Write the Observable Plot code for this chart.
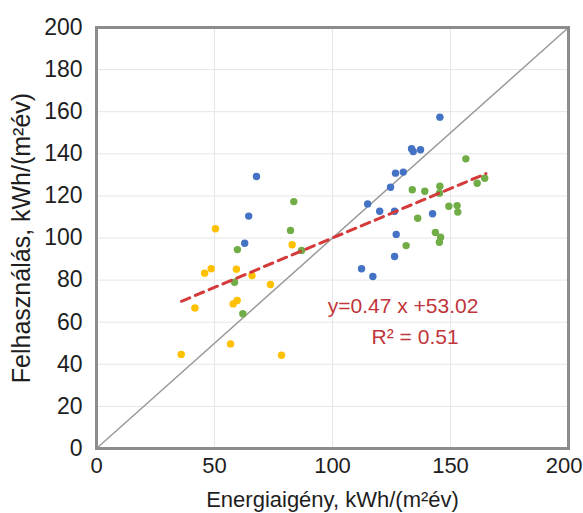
<!DOCTYPE html>
<html><head><meta charset="utf-8">
<script src="https://cdn.jsdelivr.net/npm/d3@7"></script>
<script src="https://cdn.jsdelivr.net/npm/@observablehq/plot@0.6"></script>
<style>body{margin:0;background:#fff}</style>
</head><body><div id="chart"></div>
<script>
const blueX = [67.8, 64.5, 62.8, 145.5, 133.5, 134.2, 137.3, 126.7, 130.0, 124.6, 114.9, 120.0, 126.3, 142.4, 127.0, 126.3, 112.3, 117.1];
const blueY = [129.2, 110.4, 97.5, 157.4, 142.4, 141.1, 141.9, 130.8, 131.3, 124.1, 116.2, 112.7, 112.7, 111.5, 101.7, 91.2, 85.4, 81.7];
const greenX = [83.6, 82.2, 59.7, 86.9, 58.5, 62.0, 156.5, 133.8, 139.1, 145.5, 145.3, 161.3, 164.5, 149.3, 152.8, 153.1, 136.1, 143.6, 145.8, 145.3, 131.2];
const greenY = [117.3, 103.6, 94.5, 94.1, 79.0, 64.0, 137.6, 122.9, 122.2, 124.6, 121.3, 126.0, 128.4, 115.1, 115.4, 112.3, 109.4, 102.6, 100.4, 98.0, 96.4];
const yellowX = [50.4, 82.9, 48.6, 45.8, 59.3, 65.9, 73.7, 41.7, 59.6, 57.9, 56.8, 35.9, 78.4];
const yellowY = [104.4, 96.8, 85.4, 83.3, 85.2, 82.2, 77.9, 66.8, 70.3, 68.7, 49.7, 44.7, 44.3];
const groups = ["kék", "zöld", "sárga"];
const groupColors = ["#4472c4", "#70ad47", "#ffc000"];
const xTicks = [0, 50, 100, 150, 200];
const yTicks = [0, 20, 40, 60, 80, 100, 120, 140, 160, 180, 200];
const trendSlope = 0.47, trendIntercept = 53.02;
const trendStartEnd = [36, 165];
const diagonalEnds = [0, 200];
const equationLabel = "y=0.47 x +53.02";
const r2Label = "R² = 0.51";
const equationPos = [98, 67.7];
const r2Pos = [135, 52.7];
const xLabel = "Energiaigény, kWh/(m²év)";
const yLabel = "Felhasználás, kWh/(m²év)";

const data = [
  ...blueX.map((x, i) => ({x, y: blueY[i], g: groups[0]})),
  ...greenX.map((x, i) => ({x, y: greenY[i], g: groups[1]})),
  ...yellowX.map((x, i) => ({x, y: yellowY[i], g: groups[2]}))
];
const trend = trendStartEnd.map(x => ({x, y: trendSlope * x + trendIntercept}));
const diag = diagonalEnds.map(v => ({x: v, y: v}));
const xTicksInner = xTicks.slice(0, -1);
const xTickLast = xTicks.slice(-1);

const chart = Plot.plot({
  width: 583, height: 513,
  marginLeft: 96, marginRight: 15, marginTop: 27, marginBottom: 65,
  style: {fontFamily: "'Liberation Sans', Arial, sans-serif", fontSize: "22px", color: "#1e1e1e", background: "#fff"},
  x: {domain: [0, 200]},
  y: {domain: [0, 200]},
  color: {domain: groups, range: groupColors},
  marks: [
    Plot.gridX(xTicks, {stroke: "#e6e6e6", strokeOpacity: 1, strokeWidth: 1}),
    Plot.gridY(yTicks, {stroke: "#e6e6e6", strokeOpacity: 1, strokeWidth: 1}),
    Plot.axisX({ticks: xTicksInner, tickSize: 0, tickPadding: 9, label: xLabel, labelAnchor: "center", labelOffset: 58, labelArrow: "none"}),
    Plot.axisX({ticks: xTickLast, tickSize: 0, tickPadding: 9, label: null, textAnchor: "end", dx: 14}),
    Plot.axisY({ticks: yTicks, tickSize: 0, tickPadding: 14, label: null, fontSize: 23}),
    Plot.axisY({ticks: [], tickSize: 0, label: yLabel, labelAnchor: "center", labelOffset: 84, labelArrow: "none", fontSize: 25}),
    Plot.line(diag, {x: "x", y: "y", stroke: "#9a9a9a", strokeWidth: 1.5}),
    Plot.dot(data, {x: "x", y: "y", fill: "g", r: 3.7}),
    Plot.line(trend, {x: "x", y: "y", stroke: "#d43a3a", strokeWidth: 3, strokeDasharray: "9,6"}),
    Plot.text([equationLabel], {x: () => equationPos[0], y: () => equationPos[1], text: d => d, textAnchor: "start", fill: "#c0363a", fontSize: 21}),
    Plot.text([r2Label], {x: () => r2Pos[0], y: () => r2Pos[1], text: d => d, textAnchor: "middle", fill: "#c0363a", fontSize: 21}),
    Plot.frame({stroke: "#8c8c8c", strokeWidth: 3})
  ]
});
document.getElementById("chart").appendChild(chart);
</script>
</body></html>
